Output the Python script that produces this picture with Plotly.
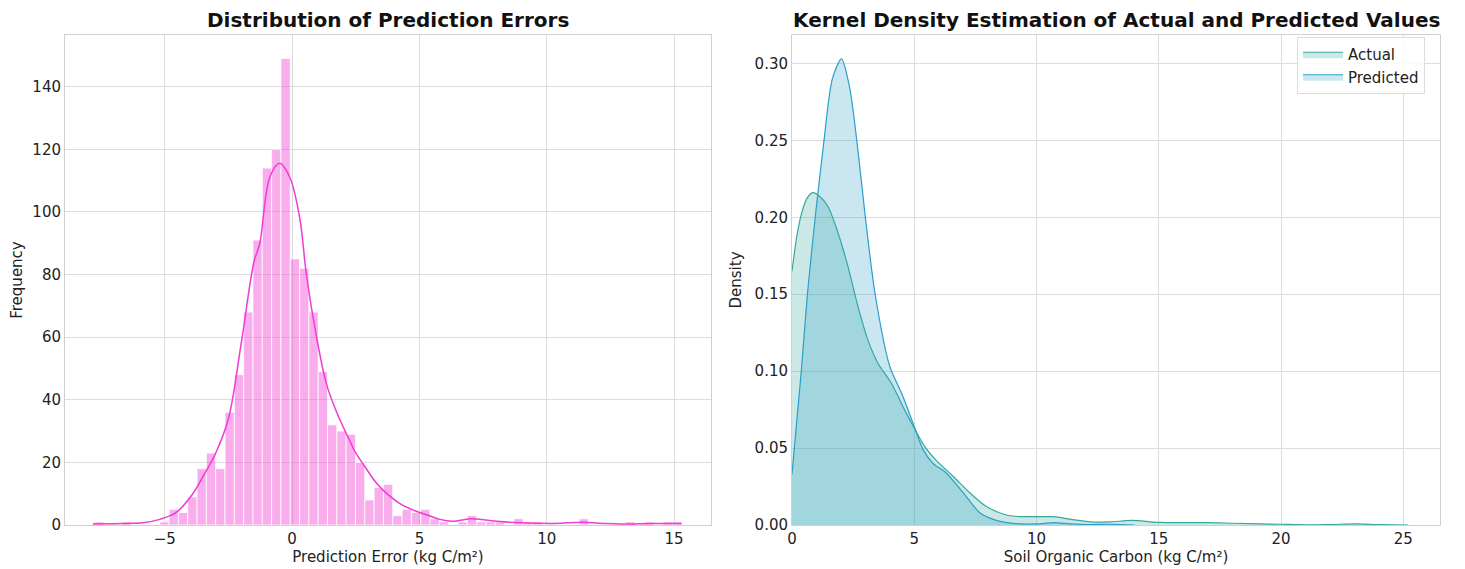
import plotly.graph_objects as go
from plotly.subplots import make_subplots

# ---------------- Data: left panel (histogram of prediction errors) ----------------
bin_start = -7.76
bin_width = 0.366
error_counts = [1, 0, 0, 1, 0, 0, 0, 1, 5, 4, 9, 18, 23, 18, 36, 48, 68, 91, 114, 120,
                149, 85, 82, 68, 49, 32, 30, 29, 20, 8, 12, 13, 3, 5, 4, 5, 2, 1, 0, 1,
                3, 1, 1, 1, 0, 2, 1, 1, 0, 0, 0, 0, 2, 0, 0, 0, 0, 1, 0, 1, 0, 1, 1]

kde_err_x = [-7.83, -7.0, -6.5, -5.85, -5.2, -4.55, -3.9, -3.5, -3.0, -2.5, -2.0, -1.5,
             -1.27, -0.88, -0.49, -0.09, 0.3, 0.56, 0.96, 1.35, 1.75, 2.14, 2.5, 2.86,
             3.3, 3.71, 4.3, 4.9, 5.3, 5.8, 6.3, 7.05, 7.6, 8.17, 9.0, 10.3, 11.4, 12.2,
             12.9, 14.2, 15.3]
kde_err_y = [0.3, 0.4, 0.5, 0.7, 1.8, 4.0, 10.0, 15.5, 23, 34, 58, 84,
             90, 111, 115.5, 111, 98, 80, 60, 45, 36, 29, 23, 18.6,
             13.5, 10.1, 6.5, 4.3, 3.2, 1.8, 1.2, 2.0, 1.6, 1.1, 0.7, 0.5, 0.85, 0.5,
             0.3, 0.5, 0.5]

# ---------------- Data: right panel (KDE of actual / predicted SOC) ----------------
actual_x = [0, 0.2, 0.4, 0.6, 0.85, 1.1, 1.47, 1.88, 2.29, 2.7, 3.11, 3.52, 4.07, 4.6,
            5.0, 5.43, 5.9, 6.6, 7.27, 7.95, 8.77, 9.3, 10, 10.7, 11.4, 12.2, 13, 13.9,
            15, 17, 19.2, 20, 21, 22, 23, 24, 25.2]
actual_y = [0.165, 0.188, 0.203, 0.212, 0.216, 0.214, 0.207, 0.19, 0.168, 0.142, 0.12,
            0.105, 0.092, 0.075, 0.063, 0.051, 0.042, 0.0315, 0.021, 0.012, 0.0065,
            0.0055, 0.0054, 0.0054, 0.0037, 0.002, 0.002, 0.003, 0.0017, 0.0015, 0.0007,
            0.0005, 0.0001, 0.0003, 0.0007, 0.0003, 0.0]

pred_x = [0, 0.38, 0.63, 0.95, 1.31, 1.65, 2.02, 2.35, 2.65, 3.0, 3.4, 4.0, 4.5, 5.0,
          5.36, 5.77, 6.3, 7.0, 7.68, 8.36, 9.05, 10, 10.7, 11.4, 12.2, 13, 14]
pred_y = [0.033, 0.10, 0.15, 0.20, 0.25, 0.29, 0.303, 0.285, 0.25, 0.20, 0.15, 0.103,
          0.085, 0.064, 0.049, 0.040, 0.034, 0.021, 0.008, 0.003, 0.001, 0.0007, 0.0015,
          0.0007, 0.0003, 0.0005, 0.0]

left_title = "Distribution of Prediction Errors"
right_title = "Kernel Density Estimation of Actual and Predicted Values"

# ---------------- Figure ----------------
PAGE_W, PAGE_H = 1465, 569
OFF = 8                      # default body margin of the html page
W, H = PAGE_W - OFF, PAGE_H - OFF
FONT = "DejaVu Sans"
GRID = "#dcdcdc"
SPINE = "#d0d0d0"
TXT = "#222"


def px(x):
    return (x - OFF) / W


def py(y):
    return (H - (y - OFF)) / H


fig = make_subplots(rows=1, cols=2)

centers = [bin_start + bin_width * (i + 0.5) for i in range(len(error_counts))]
fig.add_trace(go.Bar(
    x=centers, y=error_counts, width=bin_width,
    marker=dict(color="rgba(240,60,210,0.42)", line=dict(color="white", width=0.8)),
    showlegend=False), row=1, col=1)
fig.add_trace(go.Scatter(
    x=kde_err_x, y=kde_err_y, mode="lines",
    line=dict(color="rgb(240,60,210)", width=1.5, shape="spline", smoothing=1.0),
    showlegend=False), row=1, col=1)

fig.add_trace(go.Scatter(
    x=actual_x, y=actual_y, mode="lines", name="Actual", fill="tozeroy",
    fillcolor="rgba(44,168,154,0.25)",
    line=dict(color="rgb(52,168,156)", width=1.2, shape="spline", smoothing=0.8)),
    row=1, col=2)
fig.add_trace(go.Scatter(
    x=pred_x, y=pred_y, mode="lines", name="Predicted", fill="tozeroy",
    fillcolor="rgba(42,159,201,0.25)",
    line=dict(color="rgb(42,159,201)", width=1.2, shape="spline", smoothing=0.8)),
    row=1, col=2)

ydom = [py(525), py(35)]

axis_common = dict(showgrid=True, gridcolor=GRID, gridwidth=1, zeroline=False,
                   showline=True, linecolor=SPINE, linewidth=1, mirror=True,
                   ticks="", tickfont=dict(family=FONT, size=15, color=TXT),
                   automargin=False)

fig.update_xaxes(axis_common)
fig.update_yaxes(axis_common)

fig.update_layout(
    xaxis=dict(domain=[px(65), px(711)], range=[-8.92, 16.45], tickvals=[-5, 0, 5, 10, 15],
               title=dict(text="Prediction Error (kg C/m²)", font=dict(family=FONT, size=15, color=TXT), standoff=1)),
    yaxis=dict(domain=ydom, range=[0, 156.5], tickvals=[0, 20, 40, 60, 80, 100, 120, 140],
               title=dict(text="Frequency", font=dict(family=FONT, size=15, color=TXT), standoff=12)),
    xaxis2=dict(domain=[px(792), px(1440)], range=[0, 26.5], tickvals=[0, 5, 10, 15, 20, 25],
                title=dict(text="Soil Organic Carbon (kg C/m²)", font=dict(family=FONT, size=15, color=TXT), standoff=1)),
    yaxis2=dict(domain=ydom, range=[0, 0.3185], tickvals=[0, 0.05, 0.10, 0.15, 0.20, 0.25, 0.30],
                tickformat=".2f",
                title=dict(text="Density", font=dict(family=FONT, size=15, color=TXT), standoff=9)),
    width=W, height=H,
    margin=dict(l=0, r=0, t=0, b=0),
    paper_bgcolor="white", plot_bgcolor="white",
    font=dict(family=FONT, size=15, color=TXT),
    legend=dict(x=px(1297), y=py(37), xanchor="left", yanchor="top",
                bgcolor="rgba(255,255,255,0.85)", bordercolor="#dddddd", borderwidth=1,
                font=dict(family=FONT, size=15, color=TXT), itemwidth=40,
                tracegroupgap=0),
    annotations=[
        dict(text="<b>" + left_title + "</b>", x=px((65 + 711) / 2), y=py(20),
             xref="paper", yref="paper", showarrow=False, xanchor="center", yanchor="middle",
             font=dict(family=FONT, size=20, color="#111")),
        dict(text="<b>" + right_title + "</b>", x=px((792 + 1440) / 2), y=py(20),
             xref="paper", yref="paper", showarrow=False, xanchor="center", yanchor="middle",
             font=dict(family=FONT, size=20, color="#111")),
    ],
)

fig.write_html("out.html")
